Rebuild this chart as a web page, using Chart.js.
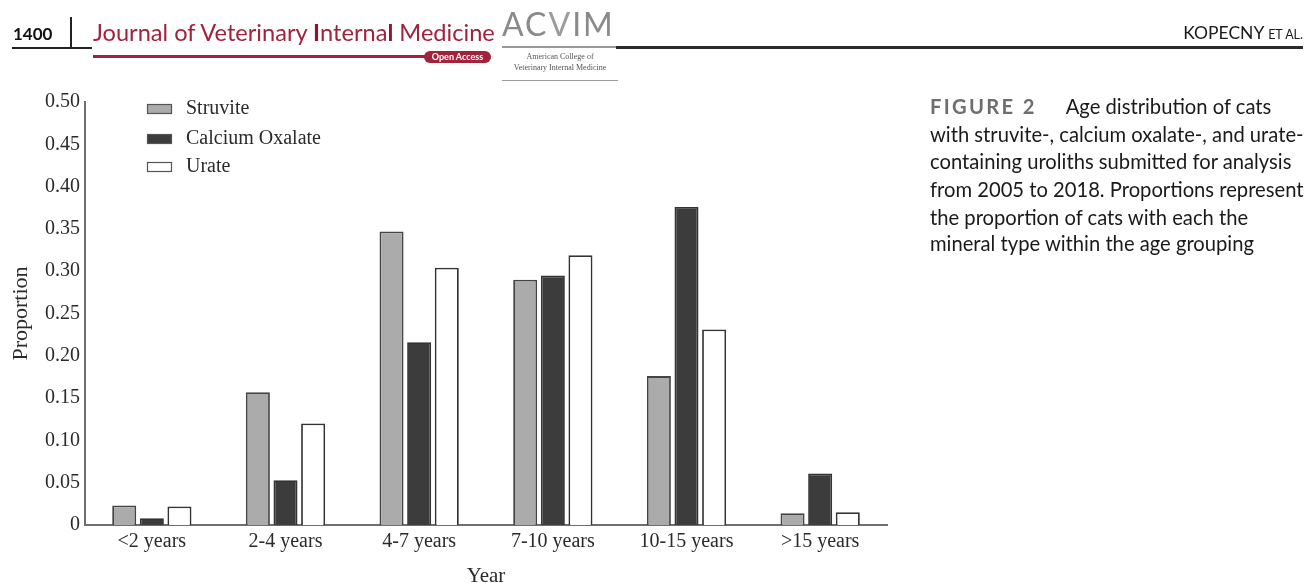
<!DOCTYPE html>
<html>
<head>
<meta charset="utf-8">
<script src="https://cdn.jsdelivr.net/npm/chart.js@4.4.1/dist/chart.umd.min.js"></script>
<style>
  html, body { margin: 0; padding: 0; background: #fff; width: 1308px; height: 583px; overflow: hidden; }
  #wrap { position: relative; width: 1308px; height: 583px; }
  #c { position: absolute; left: 0; top: 0; }
  .t { position: absolute; white-space: nowrap; line-height: 1; font-family: Lato, "Open Sans", sans-serif; }
  .ln { position: absolute; }
  .cap { position: absolute; left: 930px; white-space: nowrap; font-family: Lato, sans-serif; font-size: 20.2px; line-height: 1; color: #1a1a1a; }
</style>
</head>
<body>
<div id="wrap">
  <canvas id="c" width="1308" height="587"></canvas>

  <!-- header -->
  <div class="t" style="left:13px; top:25px; font-size:17px; font-weight:700; color:#111;">1400</div>
  <div class="ln" style="left:70px; top:17px; width:2px; height:32px; background:#222;"></div>
  <div class="ln" style="left:12px; top:47px; width:80px; height:2px; background:#222;"></div>
  <div class="t" style="left:93px; top:21px; font-size:23.6px; color:#a3223b;">Journal of Veterinary <b style="color:#8e1530">I</b>nterna<b style="color:#8e1530">l</b> Medicine</div>
  <div class="ln" style="left:93px; top:55px; width:333px; height:3px; background:#a3223b;"></div>
  <div class="t" style="left:424px; top:51px; width:67px; height:12px; border-radius:6px; background:#a3223b; color:#fff; font-size:9px; font-weight:700; text-align:center; line-height:12px;">Open Access</div>
  <div class="t" style="left:502px; top:8px; font-size:32px; color:#8a8a8a; letter-spacing:2px;">AC<span style="color:#9b9b9b">V</span>IM</div>
  <div class="ln" style="left:502px; top:46px; width:114px; height:2px; background:#9a9a9a;"></div>
  <div class="t" style="left:502px; top:53px; width:116px; text-align:center; font-size:8px; color:#555; font-family:'Liberation Serif', serif;">American College of</div>
  <div class="t" style="left:502px; top:64px; width:116px; text-align:center; font-size:8px; color:#555; font-family:'Liberation Serif', serif;">Veterinary Internal Medicine</div>
  <div class="ln" style="left:502px; top:80px; width:116px; height:1px; background:#9a9a9a;"></div>
  <div class="ln" style="left:616px; top:46px; width:687px; height:3px; background:#2a2a2a;"></div>
  <div class="t" style="right:5px; top:24px; font-size:17.5px; color:#1a1a1a;">KOPECNY <span style="font-size:12.5px;">ET AL.</span></div>

  <!-- caption -->
  <div class="cap" style="top:96px;"><span style="font-weight:700; color:#6e6e6e; letter-spacing:2.3px;">FIGURE 2</span><span style="display:inline-block; width:29px;"></span>Age distribution of cats</div>
  <div class="cap" style="top:124px;">with struvite-, calcium oxalate-, and urate-</div>
  <div class="cap" style="top:151px;">containing uroliths submitted for analysis</div>
  <div class="cap" style="top:179px;">from 2005 to 2018. Proportions represent</div>
  <div class="cap" style="top:207px;">the proportion of cats with each the</div>
  <div class="cap" style="top:233px;">mineral type within the age grouping</div>
</div>

<script>
// ---- data ----
const categories = ['<2 years', '2-4 years', '4-7 years', '7-10 years', '10-15 years', '>15 years'];
const struvite   = [0.023, 0.157, 0.347, 0.290, 0.176, 0.014];
const calciumOx  = [0.008, 0.053, 0.216, 0.295, 0.376, 0.061];
const urate      = [0.022, 0.120, 0.304, 0.319, 0.231, 0.015];
const seriesNames = ['Struvite', 'Calcium Oxalate', 'Urate'];
const yTickLabels = ['0', '0.05', '0.10', '0.15', '0.20', '0.25', '0.30', '0.35', '0.40', '0.45', '0.50'];
const xTitle = 'Year';
const yTitle = 'Proportion';

const SERIF = "'Liberation Serif', 'Times New Roman', serif";
const TEXT = '#2a2a2a';
const AXIS = '#6f6f6f';

const insideLegend = {
  id: 'insideLegend',
  afterDraw(chart) {
    const ctx = chart.ctx;
    const a = chart.chartArea;
    const bx = a.left + 62, bw = 25, bh = 10;
    const rows = [a.top + 7, a.top + 37, a.top + 65];
    ctx.save();
    ctx.font = '20px ' + SERIF;
    ctx.textBaseline = 'middle';
    chart.data.datasets.forEach((ds, i) => {
      const cy = rows[i];
      ctx.fillStyle = ds.backgroundColor;
      ctx.fillRect(bx, cy - bh / 2, bw, bh);
      ctx.lineWidth = 1.2;
      ctx.strokeStyle = '#555';
      ctx.strokeRect(bx + 0.5, cy - bh / 2 + 0.5, bw - 1, bh - 1);
      ctx.fillStyle = TEXT;
      ctx.fillText(ds.label, bx + 39, cy);
    });
    ctx.restore();
  }
};

new Chart(document.getElementById('c'), {
  type: 'bar',
  data: {
    labels: categories,
    datasets: [
      { label: seriesNames[0], data: struvite,  backgroundColor: '#ababab', borderColor: '#444444', borderWidth: 1.8 },
      { label: seriesNames[1], data: calciumOx, backgroundColor: '#3c3c3c', borderColor: '#333333', borderWidth: 1.8 },
      { label: seriesNames[2], data: urate,     backgroundColor: '#ffffff', borderColor: '#333333', borderWidth: 1.8 }
    ]
  },
  options: {
    responsive: false,
    animation: false,
    devicePixelRatio: 1,
    layout: { padding: { left: 0, top: 102, right: 421, bottom: 0 } },
    datasets: { bar: { categoryPercentage: 0.62, barPercentage: 0.87 } },
    plugins: { legend: { display: false }, tooltip: { enabled: false } },
    scales: {
      x: {
        grid: { display: false, drawTicks: false },
        border: { display: true, color: AXIS, width: 2 },
        ticks: { color: TEXT, font: { family: SERIF, size: 20 }, padding: 5, maxRotation: 0, autoSkip: false },
        title: { display: true, text: xTitle, color: TEXT, font: { family: SERIF, size: 21, lineHeight: 1 }, padding: 0 },
        afterFit(s) { s.height = 62; }
      },
      y: {
        min: 0, max: 0.5,
        grid: { display: false, drawTicks: false },
        border: { display: true, color: AXIS, width: 2 },
        ticks: { stepSize: 0.05, color: TEXT, font: { family: SERIF, size: 20 }, padding: 5,
                 callback: (v, i) => yTickLabels[i] },
        title: { display: true, text: yTitle, color: TEXT, font: { family: SERIF, size: 22, lineHeight: 1 }, padding: { top: 10, bottom: 0 } },
        afterFit(s) { s.width = 85; }
      }
    }
  },
  plugins: [insideLegend]
});
</script>
</body>
</html>
